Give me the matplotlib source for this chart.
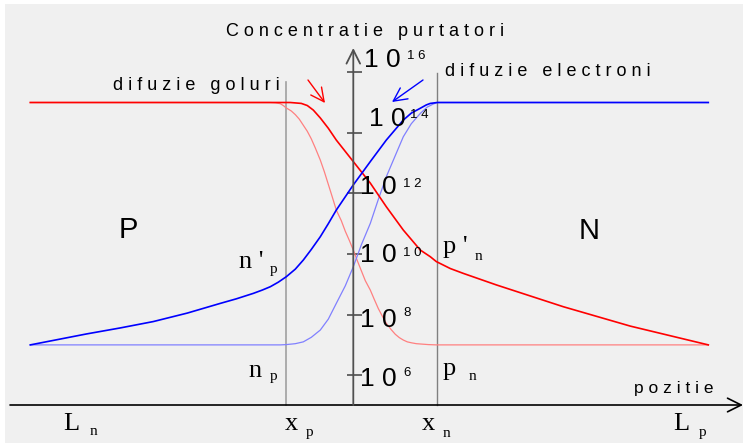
import numpy as np
import matplotlib.pyplot as plt
from matplotlib.patches import Rectangle

W, H = 743, 443

# pozitie (unitati arbitrare), jonctiunea metalurgica la x = 0
x_p, x_n = -0.67, 0.84

# goluri (p), cu polarizare directa
p_x = [-3.23, -0.63, -0.52, -0.46, -0.40, -0.33, -0.25, -0.17, 0.00, 0.17, 0.33,
       0.50, 0.67, 0.77, 0.83, 0.97, 1.10, 1.43, 2.10, 2.77, 3.55]
p_log = [15, 15, 14.97, 14.9, 14.75, 14.49, 14.15, 13.76, 13.05, 12.34, 11.56,
         10.79, 10.13, 9.91, 9.75, 9.52, 9.36, 8.98, 8.26, 7.62, 7.0]

# goluri la echilibru
p0_x = [-3.23, -0.83, -0.78, -0.73, -0.70, -0.67, -0.62, -0.58, -0.54, -0.50, -0.46,
        -0.42, -0.38, -0.33, -0.29, -0.25, -0.21, -0.17, -0.12, -0.08, -0.04, 0.00,
        0.04, 0.08, 0.12, 0.17, 0.21, 0.25, 0.29, 0.33, 0.38, 0.42, 0.46, 0.50,
        0.54, 0.58, 0.63, 0.67, 0.75, 0.83, 3.55]
p0_log = [15, 15, 14.99, 14.96, 14.9, 14.82, 14.72, 14.6, 14.45, 14.25, 14.05,
          13.8, 13.5, 13.1, 12.72, 12.3, 11.88, 11.45, 11.1, 10.75, 10.45, 10.13,
          9.78, 9.45, 9.12, 8.81, 8.5, 8.2, 7.95, 7.71, 7.5, 7.35, 7.24, 7.16,
          7.1, 7.07, 7.04, 7.03, 7.01, 7.0, 7.0]

# electroni (n), cu polarizare directa
n_x = [-3.23, -2.95, -2.67, -2.33, -2.00, -1.66, -1.33, -1.17, -1.00, -0.91, -0.83,
       -0.75, -0.67, -0.58, -0.50, -0.42, -0.33, -0.25, -0.17, 0.00, 0.17, 0.33,
       0.50, 0.58, 0.67, 0.73, 0.77, 0.84, 3.55]
n_log = [7.0, 7.18, 7.36, 7.56, 7.77, 8.05, 8.37, 8.52, 8.70, 8.81, 8.92,
         9.07, 9.25, 9.5, 9.80, 10.15, 10.57, 11.0, 11.45, 12.28, 13.05, 13.76,
         14.42, 14.65, 14.81, 14.92, 14.97, 15.0, 15.0]

# electroni la echilibru
n0_x = [-3.23, -0.73, -0.67, -0.58, -0.50, -0.42, -0.33, -0.25, -0.17, -0.08, 0.00,
        0.08, 0.17, 0.25, 0.33, 0.42, 0.50, 0.58, 0.67, 0.74, 0.80, 0.84, 3.55]
n0_log = [7.0, 7.0, 7.01, 7.04, 7.1, 7.25, 7.49, 7.85, 8.37, 8.95, 9.58,
          10.3, 11.01, 11.8, 12.55, 13.25, 13.87, 14.3, 14.64, 14.85, 14.95, 15.0, 15.0]

exps = [6, 8, 10, 12, 14, 16]

SANS = ['Liberation Sans', 'DejaVu Sans']
SERIF = ['Liberation Serif', 'DejaVu Serif']


def rar(s):
    # litere rarite, ca in desenul original
    return '   '.join(' '.join(w) for w in s.split())


fig = plt.figure(figsize=(W / 100, H / 100), dpi=100)
fig.patch.set_facecolor('white')
fig.patches.append(Rectangle((5 / W, 0), 1, 1 - 4 / H, transform=fig.transFigure,
                             facecolor='#f0f0f0', edgecolor='none', zorder=-10))

ax = fig.add_axes([0, 0, 1, 1])
ax.set_axis_off()
ax.set_yscale('log')
ax.set_xlim(-3.533, 3.897)
ax.set_ylim(10 ** 3.762, 10 ** 18.383)

yb = 1 - 405 / H  # nivelul axei orizontale
xt = ax.get_xaxis_transform()

# axe
ax.annotate('', xy=(1.0, yb), xytext=(10 / W, yb), xycoords='axes fraction',
            arrowprops=dict(arrowstyle='->, head_length=0.7, head_width=0.35',
                            color='black', lw=1.2, shrinkA=0, shrinkB=0, mutation_scale=14))
ax.annotate('', xy=(0, 1 - 48 / H), xytext=(0, yb), xycoords=xt,
            arrowprops=dict(arrowstyle='->, head_length=0.7, head_width=0.35',
                            color='#505050', lw=1.3, shrinkA=0, shrinkB=0, mutation_scale=14))
ax.hlines([10.0 ** e for e in exps], -0.065, 0.085, color='#404040', lw=1.1)

# limitele zonei de sarcina spatiala
ax.axvline(x_p, ymin=yb, ymax=1 - 82 / H, color='#a0a0a0', lw=1.2)
ax.axvline(x_n, ymin=yb, ymax=1 - 73 / H, color='#808080', lw=1.0)

# concentratii
ax.plot(p0_x, 10.0 ** np.array(p0_log), color='#ff8080', lw=0.9)
ax.plot(n0_x, 10.0 ** np.array(n0_log), color='#8080ff', lw=0.9)
ax.plot(p_x, 10.0 ** np.array(p_log), color='#ff0000', lw=1.2)
ax.plot(n_x, 10.0 ** np.array(n_log), color='#0000ff', lw=1.2)


def fp(x, y):
    return (x / W, 1 - y / H)


def put(x, y, s, **kw):
    fig.text(x / W, 1 - y / H, s, **kw)


# sagetile de difuzie
ax.annotate('', xy=fp(325, 103), xytext=fp(308, 80), xycoords='figure fraction',
            arrowprops=dict(arrowstyle='->, head_length=0.8, head_width=0.4',
                            color='red', lw=1.0, shrinkA=0, shrinkB=0, mutation_scale=12))
ax.annotate('', xy=fp(392, 102), xytext=fp(423, 80), xycoords='figure fraction',
            arrowprops=dict(arrowstyle='->, head_length=0.8, head_width=0.4',
                            color='blue', lw=1.0, shrinkA=0, shrinkB=0, mutation_scale=12))

# texte
put(365, 31, rar('Concentratie purtatori'), family=SANS, fontsize=13, ha='center', va='center')
put(113, 85, rar('difuzie goluri'), family=SANS, fontsize=13, ha='left', va='center')
put(445, 72, rar('difuzie electroni'), family=SANS, fontsize=13, ha='left', va='center')
put(713, 388, rar('pozitie'), family=SANS, fontsize=12.5, ha='right', va='center')
put(128, 230, 'P', family=SANS, fontsize=21, ha='center', va='center')
put(589, 231, 'N', family=SANS, fontsize=21, ha='center', va='center')

# etichetele axei verticale
lab_x = [360, 360, 360, 360, 369, 364]
lab_y = [379, 320, 255, 187, 119, 60]
sup_x = [403, 403, 403, 403, 410, 407]
sup_y = [373, 313, 253, 184, 115, 56]
for e, lx, ly, sx, sy in zip(exps, lab_x, lab_y, sup_x, sup_y):
    put(lx, ly, '1 0', family=SANS, fontsize=19, ha='left', va='center')
    put(sx, sy, ' '.join(str(e)), family=SANS, fontsize=9.5, ha='left', va='center')

# marimi notate
serif_labels = [
    (239, 268, "n '", 270, 273, 'p'),
    (248, 377, 'n', 270, 380, 'p'),
    (443, 253, "p '", 475, 260, 'n'),
    (443, 375, 'p', 469, 380, 'n'),
    (285, 430, 'x', 306, 436, 'p'),
    (422, 430, 'x', 443, 437, 'n'),
    (63, 430, 'L', 90, 435, 'n'),
    (673, 430, 'L', 699, 436, 'p'),
]
for mx, my, ms, sx, sy, ss in serif_labels:
    put(mx, my, ms, family=SERIF, fontsize=19, ha='left', va='baseline')
    put(sx, sy, ss, family=SERIF, fontsize=11, ha='left', va='baseline')

fig.savefig('out.png', dpi=100, facecolor=fig.get_facecolor())
